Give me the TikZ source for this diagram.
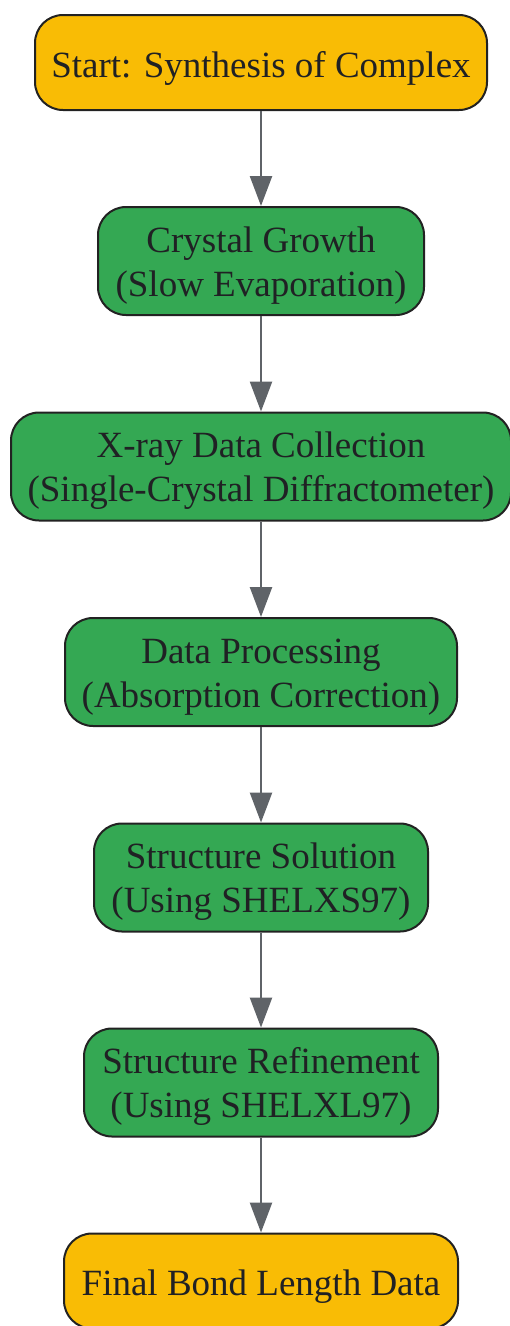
\documentclass[tikz,border=0pt]{standalone}
\usepackage{fontspec}
\setmainfont{Liberation Serif}
\usetikzlibrary{arrows.meta}
\definecolor{startY}{HTML}{F9BC05}
\definecolor{stepG}{HTML}{34A853}
\definecolor{edgeK}{HTML}{222222}
\definecolor{txtK}{HTML}{202124}
\definecolor{arrG}{HTML}{5F6368}
\newcommand\tstrut{\rule{0pt}{34pt}}
\newcommand\bstrut{\rule[-8pt]{0pt}{8pt}}
\newcommand\sstrut{\rule[-8pt]{0pt}{45pt}}
\tikzset{
  box/.style={draw=edgeK, line width=2pt, rounded corners=28pt, align=center,
    text=txtK, inner sep=0pt, font=\fontsize{37}{44}\selectfont},
  startbox/.style={box, fill=startY, minimum height=95pt},
  stepbox/.style={box, fill=stepG, minimum height=108pt},
  flow/.style={draw=arrG, line width=2.5pt, -{Triangle[length=30pt,width=22pt]}}
}
\begin{document}
\begin{tikzpicture}
\useasboundingbox (0,0) rectangle (510pt,-1326pt);
\node[startbox, minimum width=452pt] (n1) at (261pt,-62.5pt) {\sstrut Start: Synthesis of Complex};
\node[stepbox, minimum width=326pt] (n2) at (261pt,-261pt) {\tstrut Crystal Growth\\(Slow Evaporation)\bstrut};
\node[stepbox, minimum width=500pt] (n3) at (261pt,-466.5pt) {\tstrut X-ray Data Collection\\(Single-Crystal Diffractometer)\bstrut};
\node[stepbox, minimum width=392pt] (n4) at (261pt,-672pt) {\tstrut Data Processing\\(Absorption Correction)\bstrut};
\node[stepbox, minimum width=334pt] (n5) at (261pt,-877.5pt) {\tstrut Structure Solution\\(Using SHELXS97)\bstrut};
\node[stepbox, minimum width=354pt] (n6) at (261pt,-1082.5pt) {\tstrut Structure Refinement\\(Using SHELXL97)\bstrut};
\node[startbox, minimum width=394pt] (n7) at (261pt,-1281pt) {\sstrut Final Bond Length Data};
\draw[flow] (n1) -- (n2);
\draw[flow] (n2) -- (n3);
\draw[flow] (n3) -- (n4);
\draw[flow] (n4) -- (n5);
\draw[flow] (n5) -- (n6);
\draw[flow] (n6) -- (n7);
\end{tikzpicture}
\end{document}
